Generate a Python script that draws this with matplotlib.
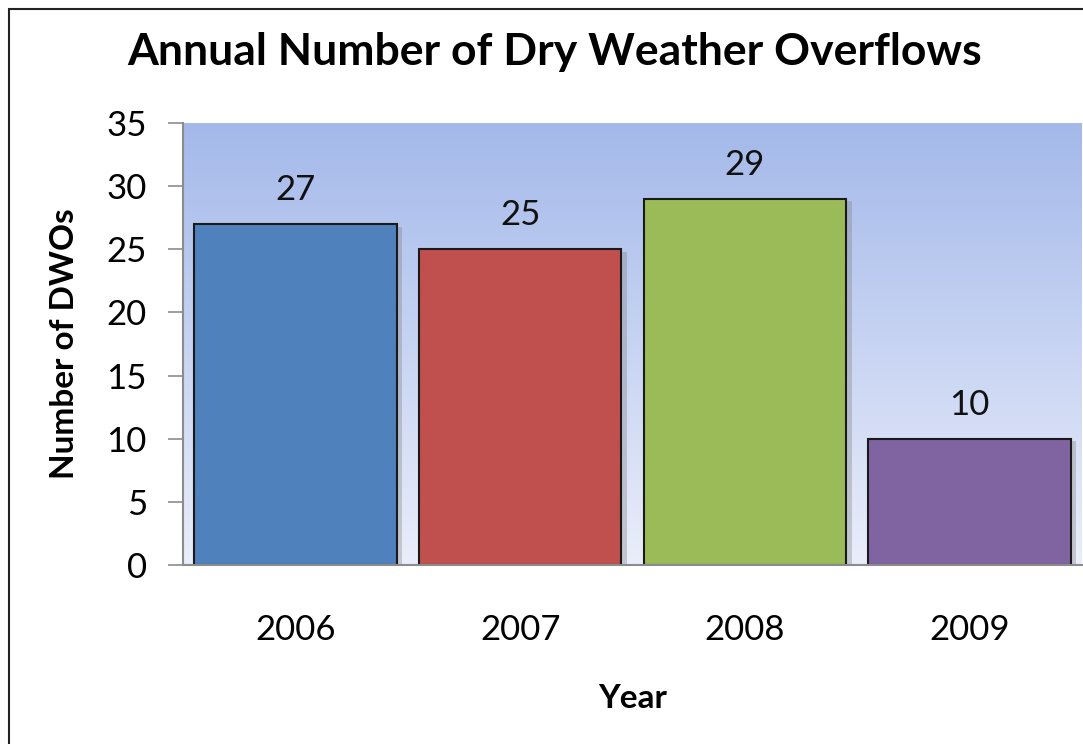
import matplotlib.pyplot as plt
import numpy as np
from matplotlib.patches import Rectangle

# data
years = ["2006", "2007", "2008", "2009"]
dwos = [27, 25, 29, 10]
bar_colors = ["#4F81BD", "#C0504D", "#9BBB59", "#8064A2"]
y_ticks = [0, 5, 10, 15, 20, 25, 30, 35]

plt.rcParams['font.family'] = ['Lato', 'DejaVu Sans']

fig = plt.figure(figsize=(10.83, 7.44), dpi=100)
ax = fig.add_axes([183 / 1083, 1 - 565 / 744, 899 / 1083, (565 - 123) / 744])

# gradient background, blue at top fading to near white
grad = np.linspace(0, 1, 256).reshape(-1, 1)
top = np.array([164, 185, 234]) / 255
bot = np.array([234, 238, 250]) / 255
img = bot + (top - bot) * grad[:, :, None]
ax.imshow(img, extent=[-0.5, 3.5, 0, 35], origin='lower', aspect='auto', zorder=0)

x = np.arange(len(years))
# soft shadow behind bars
for xi, v in zip(x, dwos):
    ax.add_patch(Rectangle((xi - 0.45 + 0.025, -0.2), 0.9, v, facecolor='#7f7f7f',
                           alpha=0.35, edgecolor='none', zorder=1))
ax.bar(x, dwos, width=0.9, color=bar_colors, edgecolor='#1a1a1a', linewidth=1.5, zorder=2)

for xi, v in zip(x, dwos):
    ax.text(xi, v + 2.7, str(v), ha='center', va='center', fontsize=25, color='#111111')

ax.set_xlim(-0.5, 3.5)
ax.set_ylim(0, 35)
ax.set_yticks(y_ticks)
ax.set_yticklabels([str(t) for t in y_ticks], fontsize=25)
ax.set_xticks(x)
ax.set_xticklabels(years, fontsize=25)
ax.tick_params(axis='y', length=11, width=1.2, color='#8c8c8c', pad=15)
ax.tick_params(axis='x', length=0, pad=35)

for s in ['top', 'right']:
    ax.spines[s].set_visible(False)
for s in ['left', 'bottom']:
    ax.spines[s].set_color('#8c8c8c')
    ax.spines[s].set_linewidth(1.5)

ax.set_xlabel("Year", fontsize=24, fontweight='bold', labelpad=28)
ax.set_ylabel("Number of DWOs", fontsize=24, fontweight='bold', labelpad=20)

fig.text(555 / 1083, 1 - 52 / 744, "Annual Number of Dry Weather Overflows",
         ha='center', va='center', fontsize=32, fontweight='bold')

# outer frame
fig.patches.append(Rectangle((9 / 1083, -0.01), 1.02, 1 - 9 / 744 + 0.01, transform=fig.transFigure,
                             fill=False, edgecolor='#222222', linewidth=1.5))

fig.savefig("out.png", dpi=100)
